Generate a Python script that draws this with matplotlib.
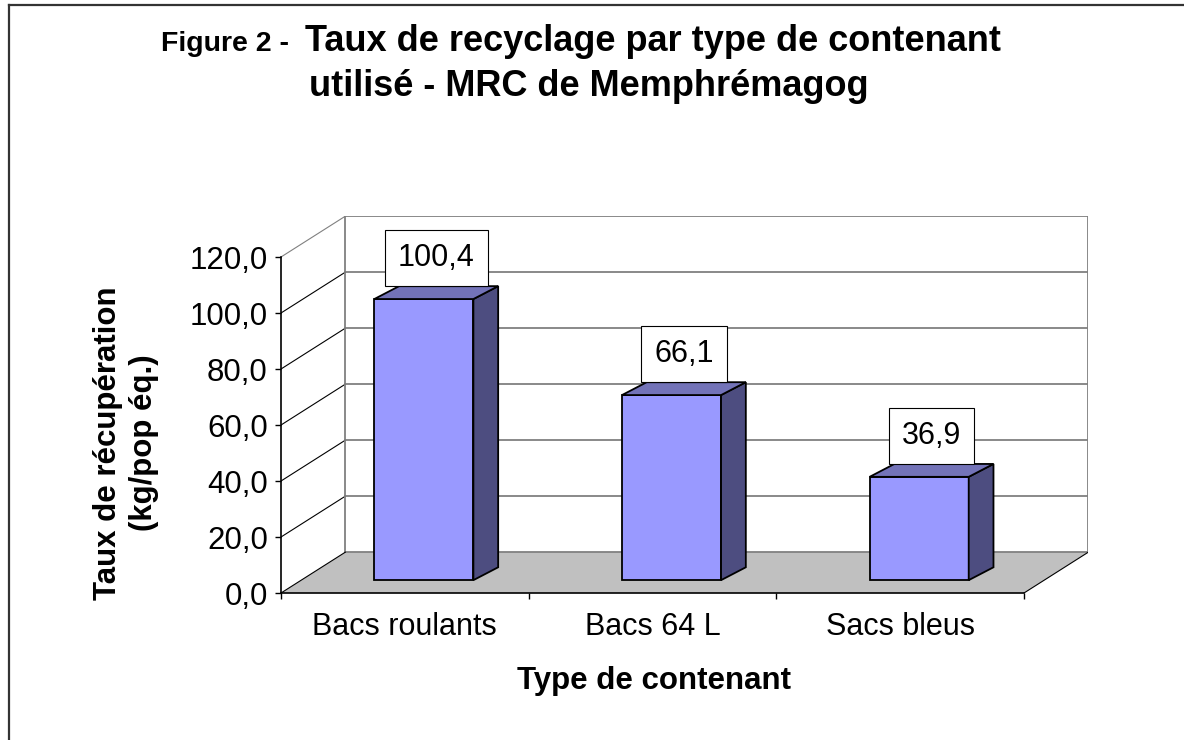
import matplotlib
matplotlib.use("Agg")
import matplotlib.pyplot as plt
from matplotlib.patches import Polygon
from matplotlib.lines import Line2D

categories = ["Bacs roulants", "Bacs 64 L", "Sacs bleus"]
values = [100.4, 66.1, 36.9]
value_labels = ["100,4", "66,1", "36,9"]
y_ticks = [0, 20, 40, 60, 80, 100, 120]
y_tick_labels = ["0,0", "20,0", "40,0", "60,0", "80,0", "100,0", "120,0"]

plt.rcParams['font.family'] = ['Liberation Sans', 'DejaVu Sans']

# depth of the 3d box, in data units
DX, DY = 0.26, 14.6
# bar front offset, bar depth, bar width
FX, FY = 0.077, 4.6
BX, BY = 0.1, 4.6
W = 0.4
grid = '#808080'

fig = plt.figure(figsize=(11.84, 7.40), dpi=100)
ax = fig.add_axes([0.2373, 0.1986, 0.6819, 0.5093])
ax.set_xlim(0, 3 + DX)
ax.set_ylim(0, 120 + DY)
ax.patch.set_visible(False)

# back wall + side wall
for v in y_ticks[1:]:
    ax.plot([DX, 3 + DX], [v + DY, v + DY], color=grid, lw=1.3, zorder=1)
    ax.plot([0, DX], [v, v + DY], color=grid if v == 120 else 'black', lw=0.8, zorder=1)
ax.plot([DX, DX], [DY, 120 + DY], color=grid, lw=1.3, zorder=1)
ax.plot([3 + DX, 3 + DX], [DY, 120 + DY], color=grid, lw=1.3, zorder=1)

# floor
ax.add_patch(Polygon([(0, 0), (3, 0), (3 + DX, DY), (DX, DY)], closed=True,
                     facecolor='#C0C0C0', edgecolor='none', zorder=1))
ax.plot([DX, 3 + DX], [DY, DY], color=grid, lw=1.3, zorder=1)
ax.plot([0, DX], [0, DY], color='black', lw=0.8, zorder=1)
ax.plot([3, 3 + DX], [0, DY], color='black', lw=0.8, zorder=1)

# bars
xs = [i + 0.5 for i in range(len(categories))]
left = [x - W / 2 + FX for x in xs]
ax.bar(left, values, width=W, bottom=FY, align='edge', color='#9999FF',
       edgecolor='black', lw=1.3, zorder=3)
for l, v in zip(left, values):
    top = v + FY
    ax.add_patch(Polygon([(l + W, FY), (l + W + BX, FY + BY), (l + W + BX, top + BY), (l + W, top)],
                         closed=True, fc='#4D4D80', ec='black', lw=1.3, zorder=3))
    ax.add_patch(Polygon([(l, top), (l + W, top), (l + W + BX, top + BY), (l + BX, top + BY)],
                         closed=True, fc='#7373B8', ec='black', lw=1.3, zorder=3))

for l, v, t in zip(left, values, value_labels):
    ax.annotate(t, xy=(l + W / 2 + BX / 2, v + FY + BY), xytext=(0, 9.5),
                textcoords='offset points', ha='center', va='bottom', fontsize=22,
                bbox=dict(boxstyle='square,pad=0.43', fc='white', ec='black', lw=0.8),
                zorder=5, annotation_clip=False)

# axes
for s in ['top', 'right']:
    ax.spines[s].set_visible(False)
ax.spines['left'].set_bounds(0, 120)
ax.spines['bottom'].set_bounds(0, 3)
for s in ['left', 'bottom']:
    ax.spines[s].set_linewidth(1.2)
    ax.spines[s].set_zorder(4)
ax.set_yticks(y_ticks, y_tick_labels)
ax.tick_params(axis='y', length=4.5, width=1, pad=5, labelsize=22.5)
ax.set_xticks([0, 1, 2, 3], [''] * 4)
ax.set_xticks(xs, categories, minor=True)
ax.tick_params(axis='x', which='major', length=4.5, width=1)
ax.tick_params(axis='x', which='minor', length=0, pad=14, labelsize=22)

# axis titles
fig.text(654 / 1184, 1 - 689 / 740, 'Type de contenant', ha='center', va='baseline',
         fontsize=22.5, fontweight='bold')
fig.text(126 / 1184, 1 - 443 / 740, 'Taux de récupération\n(kg/pop éq.)', rotation=90,
         ha='center', va='center', multialignment='center', fontsize=22.5,
         fontweight='bold', linespacing=1.25)

# title
ta = fig.text(0, 1 - 51 / 740, 'Figure 2 -', fontsize=20.5, fontweight='bold', va='baseline')
tb = fig.text(0, 1 - 51 / 740, 'Taux de recyclage par type de contenant', fontsize=26,
              fontweight='bold', va='baseline')
fig.text(589 / 1184, 1 - 96 / 740, 'utilisé - MRC de Memphrémagog', ha='center',
         va='baseline', fontsize=26, fontweight='bold')
fig.canvas.draw()
r = fig.canvas.get_renderer()
wa = ta.get_window_extent(r).width
wb = tb.get_window_extent(r).width
gap = 16
x0 = 581 - (wa + gap + wb) / 2
ta.set_x(x0 / 1184)
tb.set_x((x0 + wa + gap) / 1184)

# frame
fy = 1 - 4.5 / 740
fx = 8.5 / 1184
fig.add_artist(Line2D([fx, fx], [0, fy], color='#333333', lw=1.6))
fig.add_artist(Line2D([fx, 1], [fy, fy], color='#333333', lw=1.6))

fig.savefig('out.png', dpi=100)
